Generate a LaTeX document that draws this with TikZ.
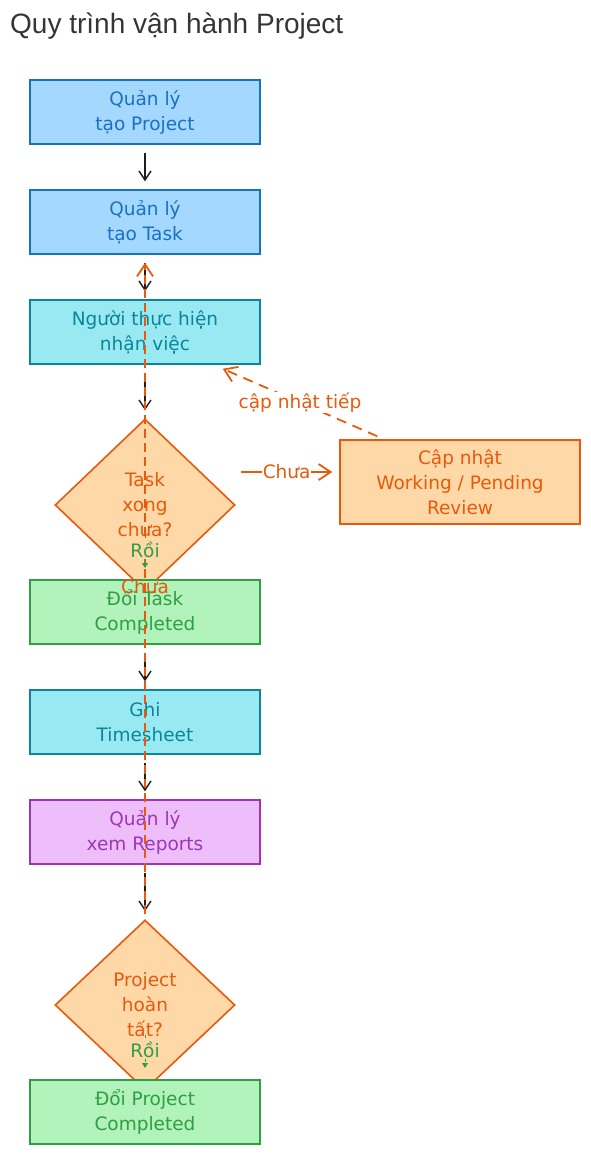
\documentclass[tikz,border=0pt]{standalone}
\usepackage{fontspec}
\setmainfont{DejaVu Sans}
\newfontfamily\titlefont{Liberation Sans}
\usetikzlibrary{shapes.geometric,arrows.meta,calc}
\definecolor{bluefill}{HTML}{A5D8FF}\definecolor{blueline}{HTML}{1971C2}
\definecolor{cyanfill}{HTML}{99E9F2}\definecolor{cyanline}{HTML}{0C8599}
\definecolor{greenfill}{HTML}{B2F2BB}\definecolor{greenline}{HTML}{2F9E44}
\definecolor{purpfill}{HTML}{EEBEFA}\definecolor{purpline}{HTML}{9C36B5}
\definecolor{orfill}{HTML}{FFD8A8}\definecolor{orline}{HTML}{E8590C}
\definecolor{ink}{HTML}{1E1E1E}
\newcommand{\hand}{\fontsize{18.5}{25}\selectfont}
\begin{document}
\begin{tikzpicture}[x=1pt,y=-1pt,
  box/.style={draw, line width=1.5pt, minimum width=230pt, minimum height=64pt, inner sep=0pt, align=center, font=\hand},
  bluebox/.style={box, fill=bluefill, draw=blueline, text=blueline},
  cyanbox/.style={box, fill=cyanfill, draw=cyanline, text=cyanline},
  greenbox/.style={box, fill=greenfill, draw=greenline, text=greenline},
  purpbox/.style={box, fill=purpfill, draw=purpline, text=purpline},
  orbox/.style={box, fill=orfill, draw=orline, text=orline},
  decision/.style={diamond, draw=orline, fill=orfill, text=orline, line width=1.6pt, minimum width=180pt, minimum height=172pt, inner sep=0pt, align=center, font=\hand},
  blk/.style={draw=ink, line width=1.4pt, shorten <=8pt, shorten >=8pt, -{Straight Barb[length=9pt,width=12pt,line width=1.4pt]}},
  oredge/.style={draw=orline, line width=1.8pt, -{Straight Barb[length=12pt,width=16pt,line width=1.8pt]}},
  yesedge/.style={draw=greenline, line width=1pt, dashed, -{Triangle[length=5pt,width=6pt]}},
  lab/.style={font=\hand, inner sep=1pt}]
\useasboundingbox (0,0) rectangle (590,1154);
\node[anchor=base west, font=\titlefont\fontsize{28}{30}\selectfont, text=ink!90, inner sep=0pt] (title) at (10,33) {Quy trình vận hành Project};

\node[bluebox] (p1) at (145,112) {Quản lý\\tạo Project};
\node[bluebox] (t) at (145,222) {Quản lý\\tạo Task};
\node[cyanbox] (w) at (145,332) {Người thực hiện\\nhận việc};
\node[decision] (d1) at (145,505) {Task\\xong\\chưa?};
\node[orbox, minimum width=240pt, minimum height=84pt] (upd) at (460,482) {Cập nhật\\Working / Pending\\Review};
\node[greenbox] (done) at (145,612) {Đổi Task\\Completed};
\node[cyanbox] (ghi) at (145,722) {Ghi\\Timesheet};
\node[purpbox] (rep) at (145,832) {Quản lý\\xem Reports};
\node[decision, minimum height=170pt] (d2) at (145,1005) {Project\\hoàn\\tất?};
\node[greenbox] (done2) at (145,1112) {Đổi Project\\Completed};

% black flow edges
\draw[blk] (p1) -- (t);
\draw[blk] (t) -- (w);
\draw[blk] (w) -- (d1);
\draw[blk] (done) -- (ghi);
\draw[blk] (ghi) -- (rep);
\draw[blk] (rep) -- (d2);

% Chua back edge from d2 to t
\draw[oredge, dash pattern=on 9pt off 5pt, shorten <=5pt, shorten >=8pt] (d2.north) -- (t.south)
  node[pos=0.5, lab, text=orline] {Chưa};

% Chua to update
\draw[oredge] ($(d1.center)+(96,-33)$) -- ($(upd.west)+(-7,-10)$)
  node[pos=0.5, lab, fill=white, text=orline] (chua1) {Chưa};

% cap nhat tiep
\draw[oredge, dash pattern=on 10pt off 7pt] ($(upd.north west)+(38,-3)$) -- ($(w.south east)+(-38,4)$)
  node[pos=0.5, lab, fill=white, text=orline] (tiep) {cập nhật tiếp};

% Roi edges
\draw[yesedge] ($(d1.center)+(0,30)$) -- ($(d1.center)+(0,63)$)
  node[pos=0.45, lab, fill=orfill, text=greenline] {Rồi};
\draw[yesedge] ($(d2.center)+(0,30)$) -- ($(d2.center)+(0,63)$)
  node[pos=0.45, lab, fill=orfill, text=greenline] {Rồi};
\end{tikzpicture}
\end{document}
